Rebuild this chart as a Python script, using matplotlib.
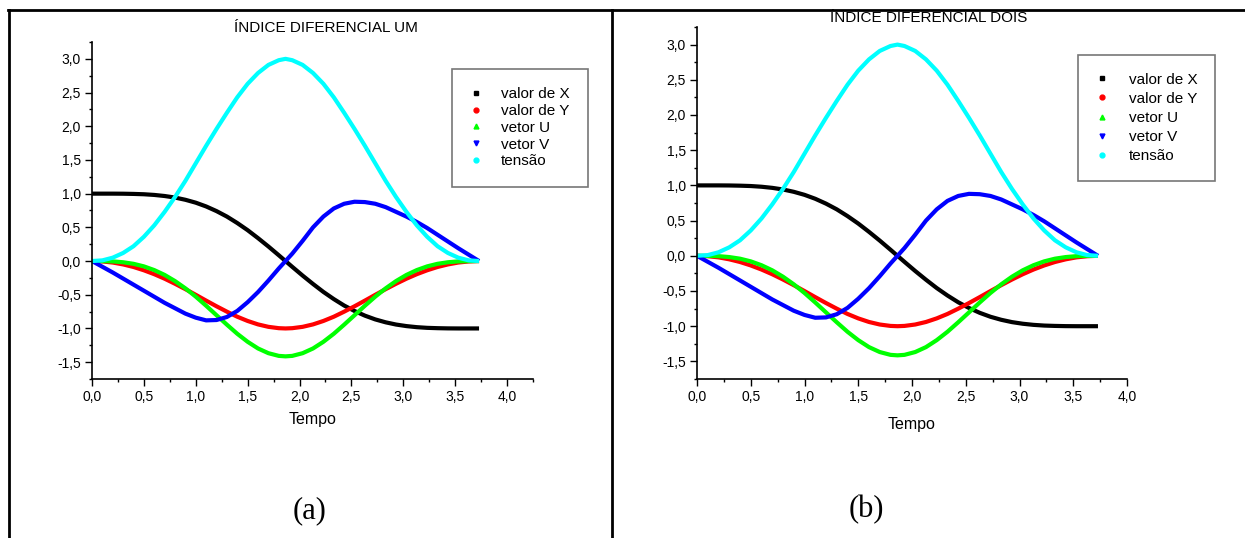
import matplotlib
matplotlib.use("Agg")
import matplotlib.pyplot as plt
from matplotlib.lines import Line2D
from matplotlib.ticker import MultipleLocator, FuncFormatter

plt.rcParams['font.family'] = ['Liberation Sans', 'DejaVu Sans']

# tempo e grandezas (mesmos dados nos dois paineis)
tempo = [0.0, 0.1, 0.2, 0.3, 0.4, 0.5, 0.6, 0.7, 0.8, 0.9, 1.0, 1.1, 1.2, 1.3,
         1.4, 1.5, 1.6, 1.7, 1.8, 1.865, 1.93, 2.03, 2.13, 2.23, 2.33, 2.43,
         2.53, 2.63, 2.73, 2.83, 2.93, 3.03, 3.13, 3.23, 3.33, 3.43, 3.53,
         3.63, 3.73]

valor_x = [1.0, 1.0, 1.0, 0.999, 0.996, 0.991, 0.981, 0.965, 0.942, 0.909,
           0.866, 0.810, 0.741, 0.660, 0.564, 0.458, 0.340, 0.216, 0.086, 0.0,
           -0.086, -0.216, -0.340, -0.458, -0.564, -0.660, -0.741, -0.810,
           -0.866, -0.909, -0.942, -0.965, -0.981, -0.991, -0.996, -0.999,
           -1.0, -1.0, -1.0]

valor_y = [0.0, -0.006, -0.022, -0.050, -0.088, -0.137, -0.195, -0.262,
           -0.337, -0.417, -0.501, -0.587, -0.671, -0.751, -0.826, -0.889,
           -0.940, -0.976, -0.996, -1.0, -0.996, -0.976, -0.940, -0.889,
           -0.826, -0.751, -0.671, -0.587, -0.501, -0.417, -0.337, -0.262,
           -0.195, -0.137, -0.088, -0.050, -0.022, -0.006, 0.0]

vetor_u = [0.0, -0.001, -0.005, -0.018, -0.041, -0.079, -0.134, -0.206,
           -0.297, -0.405, -0.528, -0.663, -0.804, -0.944, -1.079, -1.198,
           -1.297, -1.367, -1.407, -1.414, -1.407, -1.367, -1.297, -1.198,
           -1.079, -0.944, -0.804, -0.663, -0.528, -0.405, -0.297, -0.206,
           -0.134, -0.079, -0.041, -0.018, -0.005, -0.001, 0.0]

vetor_v = [0.0, -0.085, -0.17, -0.26, -0.35, -0.44, -0.53, -0.62, -0.70,
           -0.78, -0.84, -0.88, -0.875, -0.83, -0.74, -0.61, -0.46, -0.29,
           -0.11, 0.0, 0.11, 0.30, 0.50, 0.66, 0.78, 0.85, 0.88, 0.875, 0.85,
           0.80, 0.73, 0.66, 0.58, 0.49, 0.39, 0.29, 0.19, 0.095, 0.0]

tensao = [0.0, 0.01, 0.05, 0.12, 0.22, 0.36, 0.53, 0.73, 0.95, 1.19, 1.45,
          1.71, 1.96, 2.20, 2.43, 2.63, 2.79, 2.91, 2.98, 3.0, 2.98, 2.91,
          2.79, 2.63, 2.43, 2.20, 1.96, 1.71, 1.45, 1.19, 0.95, 0.73, 0.53,
          0.36, 0.22, 0.12, 0.05, 0.01, 0.0]

nomes = ['valor de X', 'valor de Y', 'vetor U', 'vetor V', 'tensão']
series = [valor_x, valor_y, vetor_u, vetor_v, tensao]
cores = ['#000000', '#ff0000', '#00ff00', '#0000ff', '#00ffff']
marcadores = ['s', 'o', '^', 'v', 'o']

W, H = 1245, 538
fig = plt.figure(figsize=(W / 100, H / 100), dpi=100)


def fig_rect(x0, y0, x1, y1):
    """Retangulo em pixels -> fracao da figura"""
    return [x0 / W, 1 - y1 / H, (x1 - x0) / W, (y1 - y0) / H]


def virgula(v, pos):
    return f'{v:.1f}'.replace('.', ',')


def desenha_painel(ax, xmax, legenda_px, leg_opts, labelpad):
    for serie, cor in zip(series, cores):
        ax.plot(tempo, serie, color=cor, linewidth=3.0, solid_capstyle='butt',
                solid_joinstyle='round')

    ax.set_xlim(0, xmax)
    ax.set_ylim(-1.75, 3.25)
    ax.spines['top'].set_visible(False)
    ax.spines['right'].set_visible(False)
    for s in ('left', 'bottom'):
        ax.spines[s].set_linewidth(1.2)

    ax.xaxis.set_major_locator(MultipleLocator(0.5))
    ax.xaxis.set_minor_locator(MultipleLocator(0.25))
    ax.yaxis.set_major_locator(MultipleLocator(0.5))
    ax.yaxis.set_minor_locator(MultipleLocator(0.25))
    ax.xaxis.set_major_formatter(FuncFormatter(virgula))
    ax.yaxis.set_major_formatter(FuncFormatter(virgula))
    ax.tick_params(which='major', direction='out', length=5, width=1.0,
                   labelsize=10, pad=3)
    ax.tick_params(which='minor', direction='out', length=2.5, width=1.0)
    ax.set_xlabel('Tempo', fontsize=11.5, labelpad=labelpad)

    # legenda so com os marcadores
    handles = [Line2D([], [], linestyle='none', marker=m, color=c,
                      markersize=3.5)
               for m, c in zip(marcadores, cores)]
    leg = ax.legend(handles, nomes, loc='upper left',
                    bbox_to_anchor=(legenda_px[0] / W, 1 - legenda_px[1] / H),
                    bbox_transform=fig.transFigure, borderaxespad=0,
                    fontsize=11, frameon=True, fancybox=False, **leg_opts)
    leg.get_frame().set_edgecolor('#555555')
    leg.get_frame().set_linewidth(1.2)


ax1 = fig.add_axes(fig_rect(92, 42, 533, 379))
desenha_painel(ax1, 4.25, (452, 69),
               dict(borderpad=1.2, labelspacing=0.18, handlelength=0.7,
                    handletextpad=1.29), 6)

ax2 = fig.add_axes(fig_rect(697, 27, 1127, 379))
desenha_painel(ax2, 4.0, (1078, 55),
               dict(borderpad=1.15, labelspacing=0.34, handlelength=0.88,
                    handletextpad=1.3), 9)

fig.text(326 / W, 1 - 28 / H, 'ÍNDICE DIFERENCIAL UM', ha='center',
         va='center', fontsize=11)
fig.text(929 / W, 1 - 18.5 / H, 'ÍNDICE DIFERENCIAL DOIS', ha='center',
         va='center', fontsize=11, zorder=1)

fig.text(310 / W, 1 - 511 / H, '(a)', ha='center', va='center', fontsize=22,
         family=['Liberation Serif', 'DejaVu Serif'])
fig.text(866 / W, 1 - 510 / H, '(b)', ha='center', va='center', fontsize=22,
         family=['Liberation Serif', 'DejaVu Serif'])

# moldura da tabela
borda = dict(color='black', linewidth=2.0, zorder=5)
fig.add_artist(Line2D([8 / W, 1], [1 - 10 / H, 1 - 10 / H], **borda))
fig.add_artist(Line2D([9 / W, 9 / W], [0, 1 - 10 / H], **borda))
fig.add_artist(Line2D([612 / W, 612 / W], [0, 1 - 10 / H], **borda))

fig.savefig('out.png', dpi=100)
